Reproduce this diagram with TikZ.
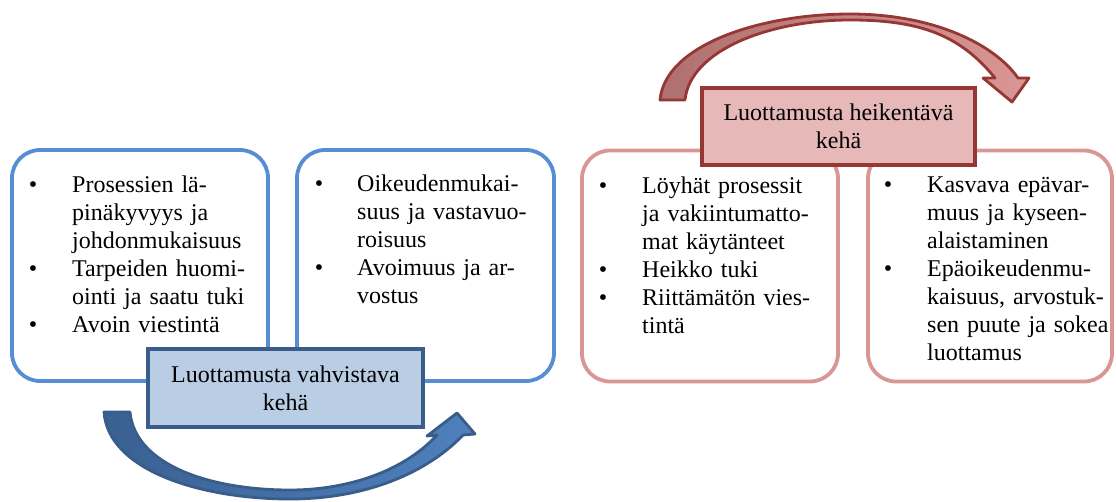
\documentclass[tikz,border=0pt]{standalone}
\usepackage{fontspec}
\setmainfont{Liberation Serif}
\definecolor{boxblue}{RGB}{85,142,213}
\definecolor{boxred}{RGB}{217,150,148}
\definecolor{lblblue}{RGB}{185,205,229}
\definecolor{lblblueline}{RGB}{56,93,138}
\definecolor{lblred}{RGB}{230,185,184}
\definecolor{lblredline}{RGB}{149,55,53}
\definecolor{arrblueL}{RGB}{58,96,146}
\definecolor{arrblueR}{RGB}{79,129,189}
\definecolor{arrredL}{RGB}{176,112,112}
\definecolor{arrredR}{RGB}{217,150,148}
\newcommand\myitemfont{\fontsize{24}{28}\selectfont}
\begin{document}
\begin{tikzpicture}[x=1pt,y=-1pt,
  bluebox/.style={draw=boxblue, line width=3.8pt, rounded corners=28pt, fill=white, inner sep=0pt},
  redbox/.style={draw=boxred, line width=3.8pt, rounded corners=28pt, fill=white, inner sep=0pt},
  bluelabel/.style={draw=lblblueline, fill=lblblue, line width=4.5pt, align=center, font=\myitemfont, inner sep=0pt},
  redlabel/.style={draw=lblredline, fill=lblred, line width=4.5pt, align=center, font=\myitemfont, inner sep=0pt},
  itemtext/.style={anchor=base west, inner sep=0pt, align=left, text width=190pt, font=\myitemfont},
  bul/.style={anchor=base, inner sep=0pt, font=\myitemfont},
  bluearrow/.style={draw=lblblueline, line width=2.8pt, line join=round, left color=arrblueL, right color=arrblueR},
  redarrow/.style={draw=lblredline, line width=2.8pt, line join=round, left color=arrredL, right color=arrredR}
]
\useasboundingbox (0,0) rectangle (1116,501);

% boxes
\node[bluebox, minimum width=256pt, minimum height=231pt] (b1) at (140,265.5) {};
\node[bluebox, minimum width=257pt, minimum height=231pt] (b2) at (425.5,265.5) {};
\node[redbox, minimum width=256pt, minimum height=231pt] (b3) at (710,266) {};
\node[redbox, minimum width=244pt, minimum height=231pt] (b4) at (990,266) {};

% box 1 text
\node[bul] (b1i1) at (33,192) {\textbullet};
\node[itemtext] (b1t1) at (72,192) {Prosessien lä-\\pinäkyvyys ja\\johdonmukaisuus};
\node[bul] (b1i2) at (33,276) {\textbullet};
\node[itemtext] (b1t2) at (72,276) {Tarpeiden huomi-\\ointi ja saatu tuki};
\node[bul] (b1i3) at (33,332) {\textbullet};
\node[itemtext] (b1t3) at (72,332) {Avoin viestintä};

% box 2 text
\node[bul] (b2i1) at (319,191) {\textbullet};
\node[itemtext] (b2t1) at (357,191) {Oikeudenmukai-\\suus ja vastavuo-\\roisuus};
\node[bul] (b2i2) at (319,275) {\textbullet};
\node[itemtext] (b2t2) at (357,275) {Avoimuus ja ar-\\vostus};

% box 3 text
\node[bul] (b3i1) at (603,193) {\textbullet};
\node[itemtext] (b3t1) at (642,193) {Löyhät prosessit\\ja vakiintumatto-\\mat käytänteet};
\node[bul] (b3i2) at (603,277) {\textbullet};
\node[itemtext] (b3t2) at (642,277) {Heikko tuki};
\node[bul] (b3i3) at (603,305) {\textbullet};
\node[itemtext] (b3t3) at (642,305) {Riittämätön vies-\\tintä};

% box 4 text
\node[bul] (b4i1) at (888,192) {\textbullet};
\node[itemtext] (b4t1) at (927,192) {Kasvava epävar-\\muus ja kyseen-\\alaistaminen};
\node[bul] (b4i2) at (888,276) {\textbullet};
\node[itemtext] (b4t2) at (927,276) {Epäoikeudenmu-\\kaisuus, arvostuk-\\sen puute ja sokea\\luottamus};

% labels
\node[bluelabel, minimum width=275pt, minimum height=78pt] (lb) at (285.5,388) {Luottamusta vahvistava\\kehä};
\node[redlabel, minimum width=273pt, minimum height=77pt] (lr) at (838.5,126.5) {Luottamusta heikentävä\\kehä};

% curved arrows
\path[bluearrow] (104,412) .. controls (108,470) and (200,499) .. (290,499)
  .. controls (370,499) and (430,470) .. (463,435)
  -- (475,434) -- (457,413) -- (427,436) -- (437,435)
  .. controls (405,470) and (350,490) .. (290,490)
  .. controls (210,490) and (135,465) .. (130,412) -- cycle;

\path[redarrow] (660,100) .. controls (665,45) and (760,14) .. (850,14)
  .. controls (935,14) and (995,45) .. (1018,78)
  -- (1029,78) -- (1012,102) -- (983,78) -- (995,78)
  .. controls (960,35) and (920,20) .. (850,20)
  .. controls (770,20) and (690,50) .. (685,100) -- cycle;
\end{tikzpicture}
\end{document}
